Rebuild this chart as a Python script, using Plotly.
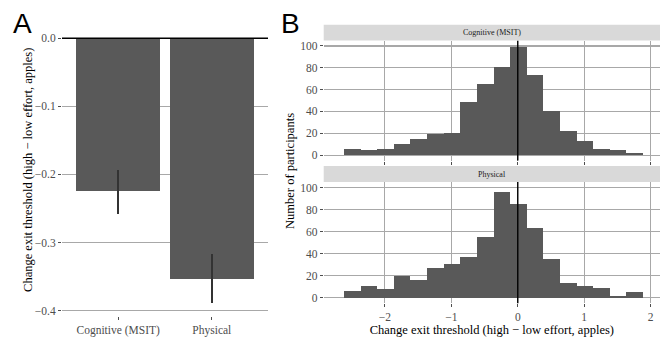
import plotly.graph_objects as go

# ---- Panel A data ----
conditions = ["Cognitive (MSIT)", "Physical"]
mean_change = [-0.225, -0.354]
err_upper = [0.032, 0.037]
err_lower = [0.033, 0.035]

# ---- Panel B data ----
bin_centers = [-2.49, -2.24, -1.99, -1.74, -1.49, -1.24, -0.99, -0.74, -0.49,
               -0.24, 0.01, 0.26, 0.51, 0.76, 1.01, 1.26, 1.51, 1.76]
bin_width = 0.25
counts_cognitive = [6, 5, 6, 10, 15, 19, 20, 49, 65, 81, 99, 73, 40, 22, 13, 6, 5, 2]
counts_physical = [6, 11, 8, 20, 16, 27, 31, 37, 55, 96, 85, 63, 35, 13, 11, 9, 2, 5]
ref_value = 0

a_ticks = [0.0, -0.1, -0.2, -0.3, -0.4]
b_xticks = [-2, -1, 0, 1, 2]
b_yticks = [0, 20, 40, 60, 80, 100]

SERIF = "Liberation Serif, Times New Roman, serif"
BAR = "#595959"
GRID = "#a8a8a8"
TICKC = "#4d4d4d"

fig = go.Figure()

fig.add_trace(go.Bar(
    x=conditions, y=mean_change, width=0.9, marker=dict(color=BAR, line=dict(width=0)),
    error_y=dict(type="data", symmetric=False, array=err_upper, arrayminus=err_lower,
                 width=0, thickness=1.6, color="#333333"),
    xaxis="x", yaxis="y", showlegend=False, hoverinfo="skip"))

fig.add_trace(go.Bar(
    x=bin_centers, y=counts_cognitive, width=bin_width,
    marker=dict(color=BAR, line=dict(width=0)), xaxis="x2", yaxis="y2", showlegend=False,
    hoverinfo="skip"))
fig.add_trace(go.Bar(
    x=bin_centers, y=counts_physical, width=bin_width,
    marker=dict(color=BAR, line=dict(width=0)), xaxis="x3", yaxis="y3", showlegend=False,
    hoverinfo="skip"))

W, H = 660, 337
def px(x): return x / W
def py(y): return (H - y) / H

def axis_style(grid=True):
    d = dict(showline=False, zeroline=False, ticks="outside", ticklen=3,
             tickcolor=TICKC, tickwidth=1,
             tickfont=dict(family=SERIF, size=11.5, color=TICKC))
    if grid:
        d.update(showgrid=True, gridcolor=GRID, gridwidth=1.2)
    else:
        d.update(showgrid=False)
    return d

b_top_dom = [py(162.5), py(41)]
b_bot_dom = [py(306.9), py(184.3)]
b_x_dom = [px(323.7), 1.0]

fig.update_layout(
    width=W, height=H, margin=dict(l=0, r=0, t=0, b=0),
    plot_bgcolor="white", paper_bgcolor="white", bargap=0,
    font=dict(family=SERIF),
    xaxis=dict(domain=[px(62), px(268)], range=[-0.6, 1.6], anchor="y", **axis_style(False)),
    yaxis=dict(domain=[py(319.8), py(25.3)], range=[-0.408, 0.0195], tickvals=a_ticks,
               tickformat=".1f", anchor="x", **axis_style(True)),
    xaxis2=dict(domain=b_x_dom, range=[-2.92, 2.14], tickvals=b_xticks, showticklabels=False,
                anchor="y2", **axis_style(True)),
    yaxis2=dict(domain=b_top_dom, range=[-5, 105], tickvals=b_yticks, anchor="x2",
                **axis_style(True)),
    xaxis3=dict(domain=b_x_dom, range=[-2.92, 2.14], tickvals=b_xticks, anchor="y3",
                title=dict(text="Change exit threshold (high \u2212 low effort, apples)",
                           font=dict(family=SERIF, size=12.5, color="black"), standoff=2),
                **axis_style(True)),
    yaxis3=dict(domain=b_bot_dom, range=[-5, 105], tickvals=b_yticks, anchor="x3",
                **axis_style(True)),
)

shapes = []
shapes.append(dict(type="line", xref="x domain", yref="y", x0=0, x1=1, y0=ref_value, y1=ref_value,
                   line=dict(color="black", width=1.4), layer="above"))
for xa, ya in (("x2", "y2"), ("x3", "y3")):
    shapes.append(dict(type="line", xref=xa, yref=ya + " domain", x0=ref_value, x1=ref_value,
                       y0=0, y1=1, line=dict(color="black", width=1.4), layer="above"))
for top, bot in ((25, 41), (168, 184.3)):
    shapes.append(dict(type="rect", xref="paper", yref="paper", x0=b_x_dom[0], x1=1.0,
                       y0=py(bot), y1=py(top), fillcolor="#d9d9d9", line=dict(width=0)))
fig.update_layout(shapes=shapes)

ann = [
    dict(text="Cognitive (MSIT)", x=(b_x_dom[0] + 1) / 2, y=py(33), xref="paper", yref="paper",
         showarrow=False, xanchor="center", yanchor="middle",
         font=dict(family=SERIF, size=8, color="#1a1a1a")),
    dict(text="Physical", x=(b_x_dom[0] + 1) / 2, y=py(176.2), xref="paper", yref="paper",
         showarrow=False, xanchor="center", yanchor="middle",
         font=dict(family=SERIF, size=8, color="#1a1a1a")),
    dict(text="Change exit threshold (high \u2212 low effort, apples)", x=px(28), y=py(172),
         xref="paper", yref="paper", textangle=-90, showarrow=False,
         xanchor="center", yanchor="middle",
         font=dict(family=SERIF, size=12.5, color="black")),
    dict(text="Number of participants", x=px(290), y=py(173), xref="paper", yref="paper",
         textangle=-90, showarrow=False, xanchor="center", yanchor="middle",
         font=dict(family=SERIF, size=12.5, color="black")),
    dict(text="A", x=px(22), y=py(24), xref="paper", yref="paper", showarrow=False,
         xanchor="center", yanchor="middle",
         font=dict(family="Liberation Sans, Arial, sans-serif", size=28, color="black")),
    dict(text="B", x=px(290), y=py(24), xref="paper", yref="paper", showarrow=False,
         xanchor="center", yanchor="middle",
         font=dict(family="Liberation Sans, Arial, sans-serif", size=28, color="black")),
]
fig.update_layout(annotations=ann)

fig.write_html("out.html", config=dict(displayModeBar=False, staticPlot=True),
               post_script="document.body.style.margin='0';document.body.style.padding='0';")
